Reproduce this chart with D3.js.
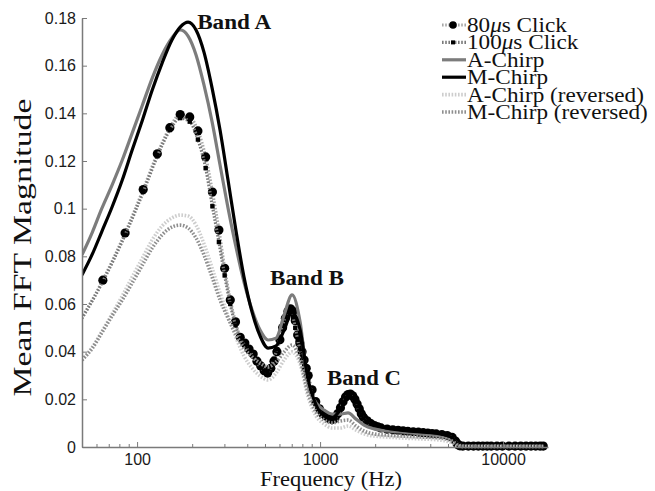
<!DOCTYPE html>
<html>
<head>
<meta charset="utf-8">
<script src="https://cdn.jsdelivr.net/npm/d3@7"></script>
<style>
  body { margin: 0; background: #fff; }
  svg { display: block; }
</style>
</head>
<body>
<svg id="chart" width="655" height="491"></svg>
<script>
// ---- Data -------------------------------------------------------------
// Click responses: one value per FFT bin (Hz)
const clickFreq = [43, 65, 86, 108, 129, 151, 172, 194, 215, 237, 258, 280, 301, 323, 345, 366, 388, 409, 431, 452,
  474, 495, 517, 538, 560, 581, 603, 624, 646, 668, 689, 711, 732, 754, 775, 797, 818, 840, 861, 904,
  947, 991, 1034, 1077, 1120, 1163, 1206, 1249, 1292, 1335, 1378, 1421, 1464, 1507, 1550, 1593, 1637, 1680, 1723, 1809,
  1895, 1981, 2067, 2153, 2326, 2498, 2670, 2842, 3015, 3230, 3445, 3661, 3876, 4091, 4307, 4630, 4953, 5276, 5491, 5599,
  5706, 5814, 6029, 6460, 6891, 7321, 7752, 8183, 8613, 9259, 9905, 10767, 11628, 12489, 13350, 14212, 15073, 15934, 16580];

const click80 = [0.046, 0.070, 0.0898, 0.108, 0.123, 0.134, 0.1395, 0.1385, 0.1326, 0.1217, 0.107, 0.091, 0.075, 0.0617, 0.0525, 0.046, 0.0436, 0.0411, 0.039, 0.036,
  0.034, 0.032, 0.031, 0.033, 0.036, 0.040, 0.045, 0.050, 0.054, 0.057, 0.058, 0.057, 0.053, 0.047, 0.0436, 0.040, 0.0365, 0.033, 0.030, 0.024,
  0.019, 0.016, 0.014, 0.013, 0.012, 0.0115, 0.012, 0.014, 0.0165, 0.019, 0.021, 0.022, 0.0222, 0.0215, 0.020, 0.018, 0.016, 0.014, 0.0125, 0.011,
  0.0098, 0.009, 0.0085, 0.008, 0.0075, 0.0072, 0.007, 0.0068, 0.0066, 0.0064, 0.0062, 0.006, 0.0058, 0.0056, 0.0055, 0.0052, 0.0048, 0.004, 0.0025, 0.0015,
  0.0008, 0.0005, 0.0004, 0.0004, 0.0004, 0.0004, 0.0004, 0.0004, 0.0004, 0.0004, 0.0004, 0.0004, 0.0004, 0.0004, 0.0004, 0.0004, 0.0004, 0.0004, 0.0004];

const click100 = [0.046, 0.0695, 0.089, 0.107, 0.122, 0.133, 0.138, 0.1365, 0.129, 0.117, 0.101, 0.086, 0.072, 0.060, 0.051, 0.0455, 0.0425, 0.040, 0.038, 0.0355,
  0.0335, 0.032, 0.0315, 0.0335, 0.037, 0.041, 0.046, 0.051, 0.0545, 0.0565, 0.0565, 0.0545, 0.050, 0.045, 0.041, 0.038, 0.0345, 0.031, 0.028, 0.0225,
  0.018, 0.015, 0.0135, 0.0125, 0.0118, 0.0115, 0.012, 0.0135, 0.016, 0.0185, 0.0205, 0.0215, 0.0215, 0.0205, 0.019, 0.017, 0.015, 0.0135, 0.012, 0.0105,
  0.0095, 0.0088, 0.0082, 0.0078, 0.0073, 0.007, 0.0068, 0.0066, 0.0064, 0.0062, 0.006, 0.0058, 0.0056, 0.0054, 0.0053, 0.005, 0.0046, 0.0038, 0.0023, 0.0014,
  0.0007, 0.0005, 0.0003, 0.0003, 0.0003, 0.0003, 0.0003, 0.0003, 0.0003, 0.0003, 0.0003, 0.0003, 0.0003, 0.0003, 0.0003, 0.0003, 0.0003, 0.0003, 0.0003];

// Chirp responses (Hz)
const chirpFreq = [50, 57, 64, 73, 83, 94, 107, 121, 137, 155, 172, 190, 210, 232, 257, 284, 314, 348, 384, 425,
  470, 520, 575, 636, 703, 778, 860, 951, 1052, 1163, 1286, 1422, 1573, 1739, 1973, 2295, 2736, 3519, 4527, 5264,
  5676, 6122, 7484, 9630, 12380, 16580];

const aChirp = [0.0806, 0.0902, 0.0999, 0.1099, 0.1204, 0.1317, 0.1435, 0.1548, 0.1645, 0.1716, 0.175, 0.1724, 0.1645, 0.1519, 0.1364, 0.1183, 0.1003, 0.0835, 0.0692, 0.0575,
  0.0491, 0.0449, 0.0457, 0.0554, 0.0638, 0.0524, 0.026, 0.0185, 0.0155, 0.0138, 0.0138, 0.0143, 0.0117, 0.0092, 0.0076, 0.0067, 0.0063, 0.0055, 0.0046, 0.0034,
  0.0013, 0.0004, 0.0003, 0.0003, 0.0003, 0.0003];

const mChirp = [0.0722, 0.081, 0.0902, 0.1007, 0.112, 0.1246, 0.1372, 0.1498, 0.1611, 0.1708, 0.1762, 0.1783, 0.175, 0.1657, 0.1506, 0.133, 0.112, 0.0902, 0.0713, 0.0566,
  0.0466, 0.0415, 0.0424, 0.0491, 0.0566, 0.0491, 0.0281, 0.0176, 0.013, 0.0122, 0.0155, 0.0206, 0.0197, 0.0138, 0.0097, 0.008, 0.0071, 0.0063, 0.0055, 0.0038,
  0.0013, 0.0004, 0.0003, 0.0003, 0.0003, 0.0003];

const aChirpRev = [0.0365, 0.042, 0.0483, 0.0558, 0.0634, 0.0713, 0.0793, 0.0869, 0.0927, 0.0961, 0.0973, 0.0969, 0.0931, 0.0852, 0.0751, 0.0646, 0.055, 0.0457, 0.0382, 0.0331,
  0.0298, 0.0281, 0.031, 0.0365, 0.0399, 0.0348, 0.021, 0.013, 0.0097, 0.008, 0.008, 0.0088, 0.0071, 0.0055, 0.0046, 0.0042, 0.0038, 0.0034, 0.0029, 0.0017,
  0.0004, 0.0002, 0.0002, 0.0002, 0.0002, 0.0002];

const mChirpRev = [0.0365, 0.0415, 0.0478, 0.055, 0.0617, 0.0688, 0.0764, 0.0835, 0.089, 0.0923, 0.0931, 0.0919, 0.0877, 0.0806, 0.0713, 0.0617, 0.0541, 0.047, 0.0415, 0.0378,
  0.0352, 0.0336, 0.0357, 0.0399, 0.0428, 0.0365, 0.0227, 0.0147, 0.0113, 0.0101, 0.0109, 0.0113, 0.0088, 0.0067, 0.0055, 0.005, 0.0046, 0.0042, 0.0038, 0.0025,
  0.0008, 0.0003, 0.0003, 0.0003, 0.0003, 0.0003];

const seriesNames = ["80\u03bcs Click", "100\u03bcs Click", "A-Chirp", "M-Chirp", "A-Chirp (reversed)", "M-Chirp (reversed)"];

const xDomain = [50, 17600];
const xMajorTicks = [100, 1000, 10000];
const xMinorTicks = [60, 70, 80, 90, 200, 300, 400, 500, 600, 700, 800, 900, 2000, 3000, 4000, 5000, 6000, 7000, 8000, 9000];
const yTicks = [0, 0.02, 0.04, 0.06, 0.08, 0.1, 0.12, 0.14, 0.16, 0.18];
const yTickLabels = ["0", "0.02", "0.04", "0.06", "0.08", "0.1", "0.12", "0.14", "0.16", "0.18"];

const bandLabels = [
  { text: "Band A", f: 213, v: 0.1755 },
  { text: "Band B", f: 533, v: 0.068 },
  { text: "Band C", f: 1092, v: 0.0262 }
];

// ---- Layout -----------------------------------------------------------
const plot = { left: 82, right: 548, top: 18, bottom: 447 };
const svg = d3.select("#chart");
const x = d3.scaleLog().domain(xDomain).range([plot.left, plot.right]);
const y = d3.scaleLinear().domain([0, 0.18]).range([plot.bottom, plot.top]);

const serif = "'Liberation Serif', 'Times New Roman', serif";
const sans = "'Liberation Sans', Arial, Helvetica, sans-serif";
const axisColor = "#7a7a7a";

svg.append("defs").append("clipPath").attr("id", "plotClip")
  .append("rect")
  .attr("x", plot.left).attr("y", plot.top - 10)
  .attr("width", plot.right - plot.left + 2).attr("height", plot.bottom - plot.top + 16);

// ---- Series styles ----------------------------------------------------
const series = [
  { name: seriesNames[0], freq: clickFreq, vals: click80, stroke: "#a8a8a8", width: 3.2, dash: "1.6,1.6", marker: "dot" },
  { name: seriesNames[1], freq: clickFreq, vals: click100, stroke: "#7a7a7a", width: 3.2, dash: "1.6,1.6", marker: "square" },
  { name: seriesNames[2], freq: chirpFreq, vals: aChirp, stroke: "#7c7c7c", width: 3.2, dash: null, marker: null },
  { name: seriesNames[3], freq: chirpFreq, vals: mChirp, stroke: "#000000", width: 3.2, dash: null, marker: null },
  { name: seriesNames[4], freq: chirpFreq, vals: aChirpRev, stroke: "#cdcdcd", width: 3.6, dash: "1.6,1.6", marker: null },
  { name: seriesNames[5], freq: chirpFreq, vals: mChirpRev, stroke: "#8e8e8e", width: 3.6, dash: "1.6,1.6", marker: null }
];

const line = d3.line()
  .x(d => x(d[0]))
  .y(d => y(d[1]))
  .curve(d3.curveMonotoneX);

const plotG = svg.append("g").attr("clip-path", "url(#plotClip)");

series.forEach(s => {
  const pts = s.freq.map((f, i) => [f, s.vals[i]]);
  const g = plotG.append("g");
  g.append("path")
    .datum(pts)
    .attr("d", line)
    .attr("fill", "none")
    .attr("stroke", s.stroke)
    .attr("stroke-width", s.width)
    .attr("stroke-linejoin", "round")
    .attr("stroke-dasharray", s.dash);
  if (s.marker === "dot") {
    g.selectAll("circle").data(pts).join("circle")
      .attr("cx", d => x(d[0])).attr("cy", d => y(d[1]))
      .attr("r", 4.6).attr("fill", "#000");
  } else if (s.marker === "square") {
    g.selectAll("rect").data(pts).join("rect")
      .attr("x", d => x(d[0]) - 2.2).attr("y", d => y(d[1]) - 2.2)
      .attr("width", 4.4).attr("height", 4.4).attr("fill", "#000");
  }
});

// ---- Axes ---------------------------------------------------------------
const yAxis = d3.axisLeft(y)
  .tickValues(yTicks)
  .tickFormat((d, i) => yTickLabels[i])
  .tickSizeInner(-5).tickSizeOuter(0).tickPadding(6);
const yG = svg.append("g").attr("transform", `translate(${plot.left},0)`).call(yAxis);

const xAxis = d3.axisBottom(x)
  .tickValues(xMajorTicks)
  .tickFormat(d3.format("d"))
  .tickSizeInner(-5).tickSizeOuter(0).tickPadding(7);
const xG = svg.append("g").attr("transform", `translate(0,${plot.bottom})`).call(xAxis);

const xMinor = d3.axisBottom(x)
  .tickValues(xMinorTicks)
  .tickFormat("")
  .tickSizeInner(-3).tickSizeOuter(0);
const xmG = svg.append("g").attr("transform", `translate(0,${plot.bottom})`).call(xMinor);
xmG.select(".domain").remove();

[yG, xG, xmG].forEach(g => {
  g.select(".domain").attr("stroke", axisColor).attr("stroke-width", 1.5);
  g.selectAll(".tick line").attr("stroke", axisColor).attr("stroke-width", 1);
  g.selectAll(".tick text")
    .attr("fill", "#1a1a1a")
    .style("font-family", sans)
    .style("font-size", "16px");
});

// ---- Axis titles --------------------------------------------------------
svg.append("text")
  .attr("transform", `translate(31,${(plot.top + plot.bottom) / 2 + 15}) rotate(-90)`)
  .attr("text-anchor", "middle")
  .style("font-family", serif)
  .style("font-size", "25px")
  .attr("textLength", 298).attr("lengthAdjust", "spacingAndGlyphs")
  .attr("fill", "#111")
  .text("Mean FFT Magnitude");

svg.append("text")
  .attr("x", 331).attr("y", 486)
  .attr("text-anchor", "middle")
  .style("font-family", serif)
  .style("font-size", "22px")
  .attr("textLength", 142).attr("lengthAdjust", "spacingAndGlyphs")
  .attr("fill", "#111")
  .text("Frequency (Hz)");

// ---- Band annotations ----------------------------------------------------
svg.selectAll("text.band").data(bandLabels).join("text")
  .attr("class", "band")
  .attr("x", d => x(d.f)).attr("y", d => y(d.v))
  .style("font-family", serif)
  .style("font-weight", "bold")
  .style("font-size", "20px")
  .attr("textLength", 74).attr("lengthAdjust", "spacingAndGlyphs")
  .attr("fill", "#111")
  .text(d => d.text);

// ---- Legend -----------------------------------------------------------
const legend = svg.append("g").attr("transform", "translate(442,25)");
const rowH = 17.4;
series.forEach((s, i) => {
  const row = legend.append("g").attr("transform", `translate(0,${i * rowH})`);
  row.append("line")
    .attr("x1", 0).attr("x2", 24).attr("y1", 0).attr("y2", 0)
    .attr("stroke", s.stroke).attr("stroke-width", s.width)
    .attr("stroke-dasharray", s.dash);
  if (s.marker === "dot") {
    row.append("circle").attr("cx", 11).attr("cy", 0).attr("r", 3.8).attr("fill", "#000");
  } else if (s.marker === "square") {
    row.append("rect").attr("x", 9).attr("y", -2).attr("width", 4).attr("height", 4).attr("fill", "#000");
  }
  const t = row.append("text")
    .attr("x", 25).attr("y", 0).attr("dy", "0.34em")
    .style("font-family", serif)
    .style("font-size", "20.5px")
    .attr("fill", "#111");
  const mu = s.name.indexOf("\u03bc");
  if (mu >= 0) {
    t.append("tspan").text(s.name.slice(0, mu));
    t.append("tspan").style("font-style", "italic").text("\u03bc");
    t.append("tspan").text(s.name.slice(mu + 1));
  } else {
    t.text(s.name);
  }
  const w = t.node().getComputedTextLength();
  t.attr("textLength", w * 1.13).attr("lengthAdjust", "spacingAndGlyphs");
});
</script>
</body>
</html>
